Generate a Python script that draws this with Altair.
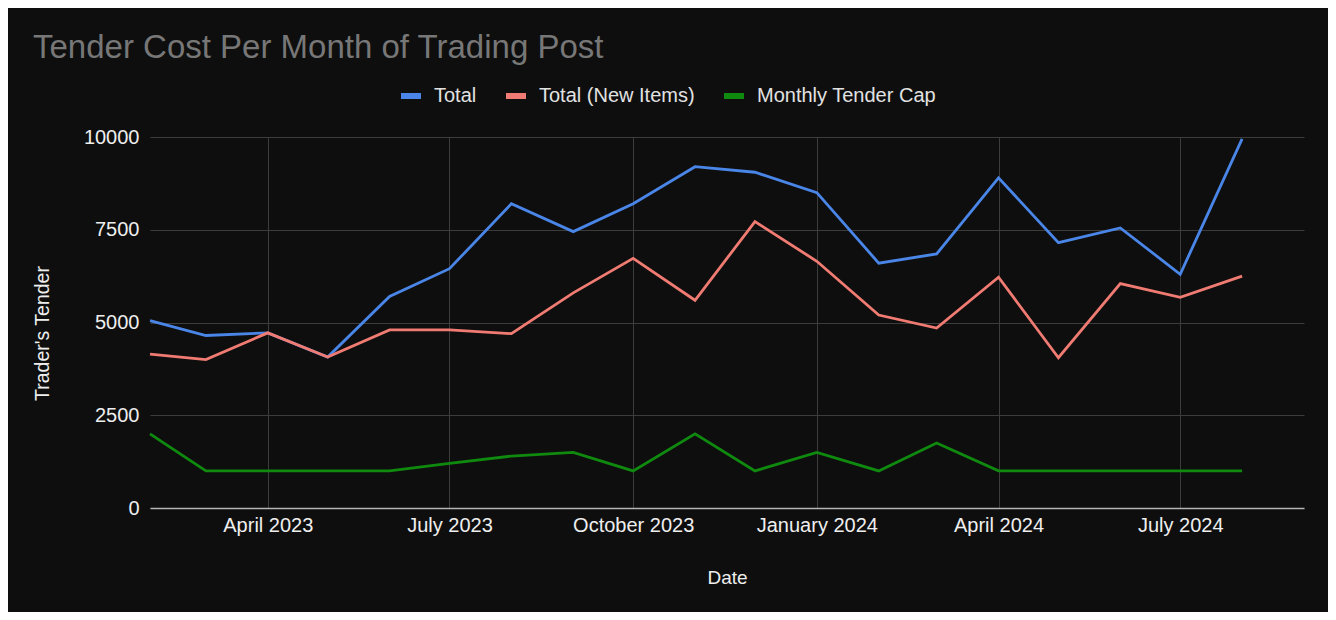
import altair as alt
import pandas as pd

# ---- data ----
dates = [
    "2023-02-01", "2023-03-01", "2023-04-01", "2023-05-01", "2023-06-01",
    "2023-07-01", "2023-08-01", "2023-09-01", "2023-10-01", "2023-11-01",
    "2023-12-01", "2024-01-01", "2024-02-01", "2024-03-01", "2024-04-01",
    "2024-05-01", "2024-06-01", "2024-07-01", "2024-08-01",
]
total = [5050, 4650, 4720, 4070, 5700, 6450, 8200, 7450, 8200, 9200,
         9050, 8500, 6600, 6850, 8900, 7150, 7550, 6300, 9950]
new_items = [4150, 4000, 4720, 4070, 4800, 4800, 4700, 5800, 6730, 5600,
             7720, 6650, 5200, 4850, 6220, 4050, 6050, 5680, 6250]
tender_cap = [2000, 1000, 1000, 1000, 1000, 1200, 1400, 1500, 1000, 2000,
              1000, 1500, 1000, 1750, 1000, 1000, 1000, 1000, 1000]

series_names = ["Total", "Total (New Items)", "Monthly Tender Cap"]
series_colors = ["#4a86e8", "#f07b72", "#0f8a0f"]
y_ticks = [0, 2500, 5000, 7500, 10000]
x_tick_dates = [(2023, 4), (2023, 7), (2023, 10), (2024, 1), (2024, 4), (2024, 7)]

rows = []
for name, vals in zip(series_names, [total, new_items, tender_cap]):
    for d, v in zip(dates, vals):
        rows.append({"date": d, "value": v, "series": name})
df = pd.DataFrame(rows)

FONT = "Liberation Sans"

x_values = [alt.DateTime(year=y, month=m, date=1, utc=True) for y, m in x_tick_dates]

chart = (
    alt.Chart(df)
    .mark_line(strokeWidth=2.8)
    .encode(
        x=alt.X(
            "date:T",
            scale=alt.Scale(
                type="utc",
                domain=[
                    alt.DateTime(year=2023, month=2, date=1, utc=True),
                    alt.DateTime(year=2024, month=9, date=1, utc=True),
                ],
            ),
            axis=alt.Axis(
                title="Date",
                values=x_values,
                labelExpr="utcFormat(datum.value, '%B %Y')",
                labelFontSize=20,
                labelColor="#eeeeee",
                labelPadding=7,
                labelFont=FONT,
                ticks=False,
                domainColor="#b5b5b5",
                domainWidth=1.5,
                gridColor="#3c3c3c",
                gridWidth=1,
                titleFont=FONT,
                titleFontSize=19,
                titleFontWeight="normal",
                titleColor="#eeeeee",
                titlePadding=33,
            ),
        ),
        y=alt.Y(
            "value:Q",
            scale=alt.Scale(domain=[0, 10000], nice=False),
            axis=alt.Axis(
                title="Trader's Tender",
                values=y_ticks,
                format="d",
                labelFontSize=20,
                labelColor="#eeeeee",
                labelPadding=11,
                labelFont=FONT,
                ticks=False,
                domain=False,
                gridColor="#3c3c3c",
                gridWidth=1,
                titleFont=FONT,
                titleFontSize=19.5,
                titleFontWeight="normal",
                titleColor="#eeeeee",
                titleX=-108,
                titleY=196,
                titleAngle=-90,
                titleAlign="center",
                titleBaseline="middle",
            ),
        ),
        color=alt.Color(
            "series:N",
            sort=series_names,
            scale=alt.Scale(domain=series_names, range=series_colors),
            legend=alt.Legend(
                title=None,
                orient="none",
                direction="horizontal",
                legendX=248,
                legendY=-54,
                symbolType="stroke",
                symbolSize=400,
                symbolStrokeWidth=6,
                labelFont=FONT,
                labelFontSize=20,
                labelColor="#e2e2e2",
                labelOffset=10,
                labelLimit=400,
                columnPadding=17,
                padding=0,
            ),
        ),
    )
    .properties(
        width=1154,
        height=371,
        autosize=alt.AutoSizeParams(type="none"),
        padding={"left": 142, "top": 129, "right": 24, "bottom": 104},
        title=alt.TitleParams(
            text="Tender Cost Per Month of Trading Post",
            anchor="start",
            frame="group",
            font=FONT,
            fontSize=33,
            fontWeight="normal",
            color="#777777",
            baseline="alphabetic",
            dx=-117,
            offset=-8,
        ),
    )
    .configure(background="#0e0e0e")
    .configure_view(strokeWidth=0)
)

chart.save("out.html", embed_options={"renderer": "svg", "actions": False})
